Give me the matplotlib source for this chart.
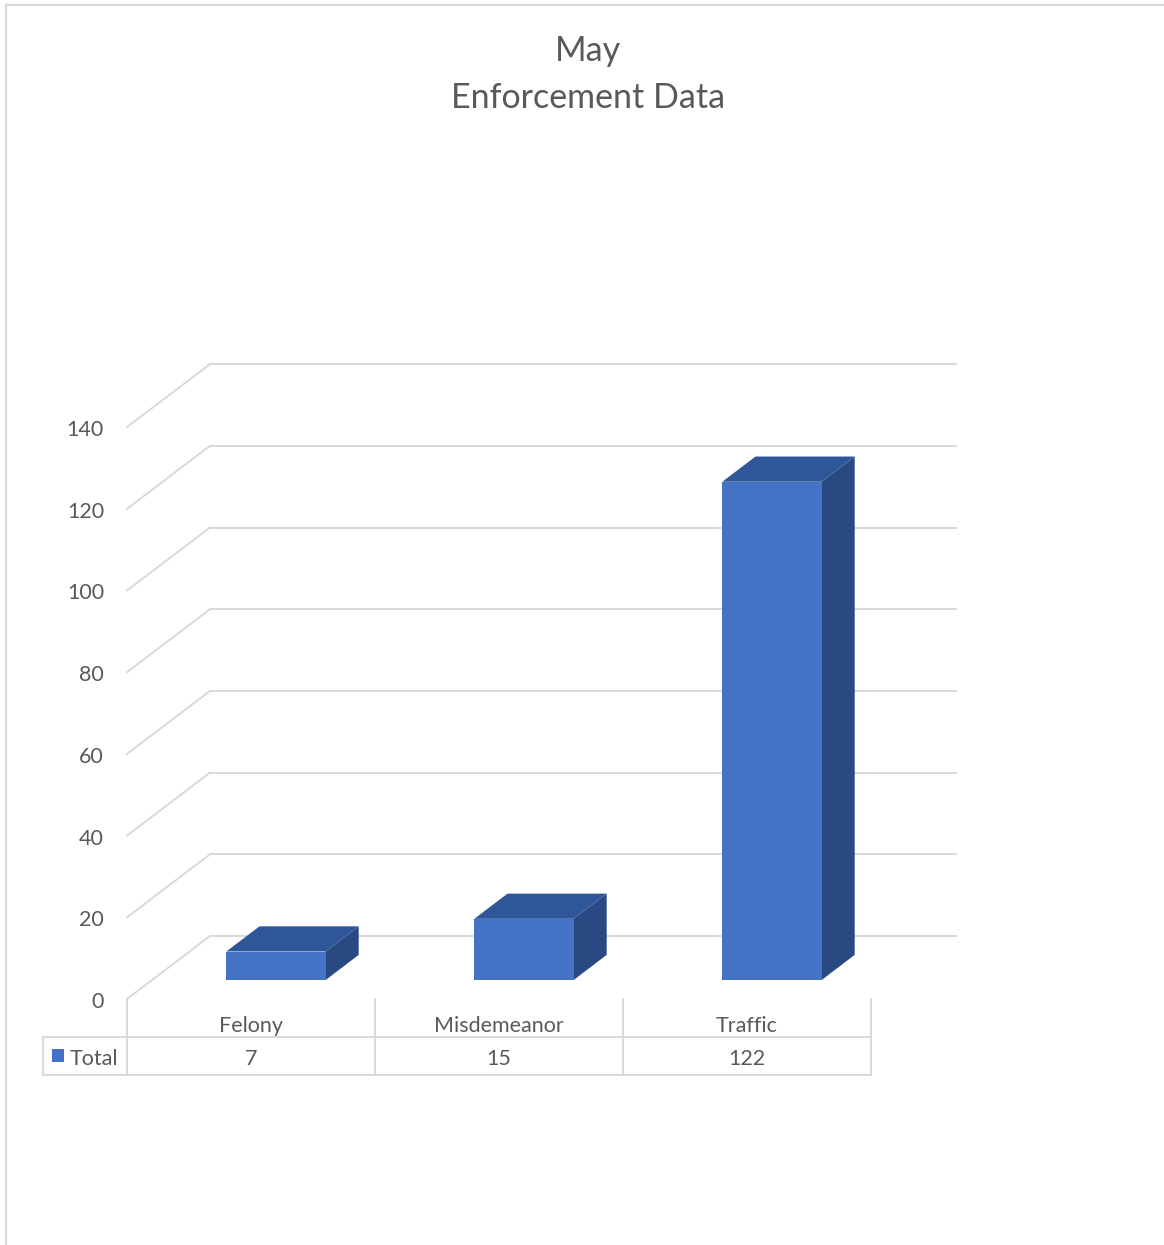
import matplotlib
matplotlib.use("Agg")
import matplotlib.pyplot as plt
from matplotlib.patches import Polygon, Rectangle
from matplotlib.lines import Line2D

# data
categories = ["Felony", "Misdemeanor", "Traffic"]
totals = [7, 15, 122]
series_name = "Total"
y_ticks = [0, 20, 40, 60, 80, 100, 120, 140]
title_lines = ["May", "Enforcement Data"]

# look
plt.rcParams['font.family'] = ['Lato', 'DejaVu Sans']
TEXT = "#595959"
GRID = "#D9D9D9"
FRONT = "#4472C4"
TOP = "#30569A"
SIDE = "#294982"
FS = 15.5

W, H = 1164, 1245
fig = plt.figure(figsize=(W / 100, H / 100), dpi=100)

# layout in pixels: front-plane origin and scales
X0, Y0 = 127, 999
PX_CAT = 248
PX_VAL = 4.085
DX = 83 / PX_CAT      # depth offset in category units
DY = 63 / PX_VAL      # depth offset in value units
TXT_SHIFT = 3 / PX_VAL  # nudge text down a few pixels

ax = fig.add_axes([0, 0, 1, 1])
ax.set_xlim(-X0 / PX_CAT, (W - X0) / PX_CAT)
ax.set_ylim((Y0 - H) / PX_VAL, Y0 / PX_VAL)
ax.axis("off")

lw = 1.4

# back wall gridlines and left wall diagonals
x_end = len(categories) + DX + 3 / PX_CAT
for v in y_ticks:
    ax.plot([DX, x_end], [v + DY, v + DY], color=GRID, lw=lw, zorder=1,
            solid_capstyle="butt")
    ax.plot([0, DX], [v, v + DY], color=GRID, lw=lw, zorder=1)
    ax.text(-23 / PX_CAT, v - TXT_SHIFT, str(v), ha="right", va="center",
            fontsize=FS, color=TEXT)

# bars as boxes
d0, d1 = 0.3, 0.7
half = 0.2
for i, val in enumerate(totals):
    c = i + 0.5
    xl = c - half + d0 * DX
    xr = c + half + d0 * DX
    yb = d0 * DY
    yt = val + d0 * DY
    ox = (d1 - d0) * DX
    oy = (d1 - d0) * DY
    ax.add_patch(Polygon([(xr, yb), (xr + ox, yb + oy), (xr + ox, yt + oy), (xr, yt)],
                         closed=True, facecolor=SIDE, edgecolor="none", zorder=3))
    ax.add_patch(Polygon([(xl, yt), (xr, yt), (xr + ox, yt + oy), (xl + ox, yt + oy)],
                         closed=True, facecolor=TOP, edgecolor="none", zorder=3))
    ax.add_patch(Rectangle((xl, yb), xr - xl, yt - yb, facecolor=FRONT,
                           edgecolor="none", zorder=4))

# data table
row1 = (Y0 - 1037) / PX_VAL
row2 = (Y0 - 1075) / PX_VAL
x_left = (43 - X0) / PX_CAT
n = len(categories)
ax.plot([x_left, n], [row1, row1], color=GRID, lw=lw, zorder=1)
ax.plot([x_left, n], [row2, row2], color=GRID, lw=lw, zorder=1)
ax.plot([x_left, x_left], [row1, row2], color=GRID, lw=lw, zorder=1)
for k in range(n + 1):
    ax.plot([k, k], [0, row2], color=GRID, lw=lw, zorder=1)

cat_y = (Y0 - 1023) / PX_VAL - TXT_SHIFT
val_y = (Y0 - 1056) / PX_VAL - TXT_SHIFT
for i, (cat, val) in enumerate(zip(categories, totals)):
    ax.text(i + 0.5, cat_y, cat, ha="center", va="center", fontsize=FS, color=TEXT)
    ax.text(i + 0.5, val_y, str(val), ha="center", va="center", fontsize=FS, color=TEXT)

# legend key in the table
ax.add_patch(Rectangle(((52 - X0) / PX_CAT, (Y0 - 1062) / PX_VAL),
                       12 / PX_CAT, 13 / PX_VAL, facecolor=FRONT, edgecolor="none"))
ax.text((70 - X0) / PX_CAT, val_y, series_name, ha="left", va="center",
        fontsize=FS, color=TEXT)

# title
fig.text(588 / W, 1 - 51 / H, title_lines[0], ha="center", va="center",
         fontsize=24.5, color=TEXT)
fig.text(588 / W, 1 - 98 / H, title_lines[1], ha="center", va="center",
         fontsize=24.5, color=TEXT)

# chart area border (left and top edges visible)
fig.add_artist(Line2D([6 / W, 6 / W], [0, 1 - 5 / H], color=GRID, lw=1.6,
                      transform=fig.transFigure))
fig.add_artist(Line2D([6 / W, 1], [1 - 5 / H, 1 - 5 / H], color=GRID, lw=1.6,
                      transform=fig.transFigure))

fig.savefig("out.png", dpi=100, facecolor="white")
